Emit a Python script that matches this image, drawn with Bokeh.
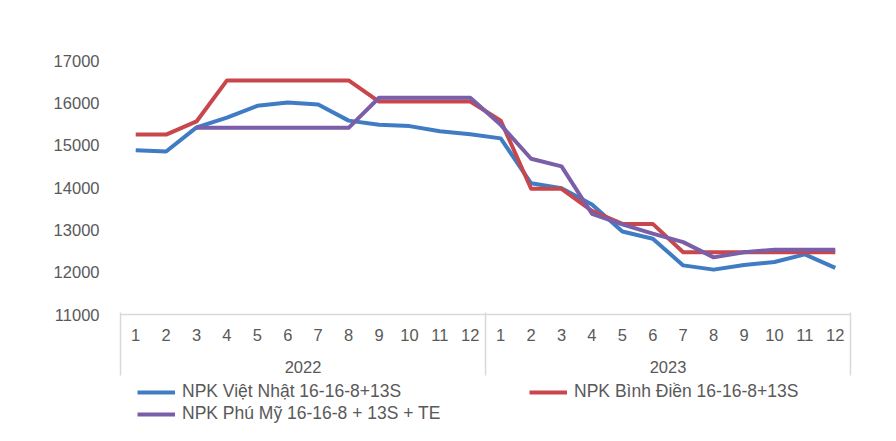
from bokeh.plotting import figure
from bokeh.models import (FixedTicker, LinearAxis, Legend, LegendItem, Range1d,
                          ColumnDataSource)
from bokeh.layouts import column
from bokeh.embed import file_html
from bokeh.resources import INLINE

years = ["2022", "2023"]
months = [str(m) for m in range(1, 13)]
viet_nhat = [14880, 14850, 15420, 15650, 15930, 16010, 15960, 15580, 15480, 15450, 15330, 15260,
             15160, 14100, 13980, 13600, 12960, 12790, 12160, 12060, 12170, 12240, 12420, 12100]
binh_dien = [15250, 15250, 15560, 16530, 16530, 16530, 16530, 16530, 16030, 16030, 16030, 16030,
             15580, 13970, 13970, 13450, 13140, 13140, 12470, 12470, 12470, 12470, 12470, 12470]
phu_my = [None, None, 15410, 15410, 15410, 15410, 15410, 15410, 16120, 16120, 16120, 16120,
          15480, 14680, 14500, 13380, 13130, 12910, 12710, 12350, 12470, 12530, 12530, 12530]
series_names = ["NPK Việt Nhật 16-16-8+13S", "NPK Bình Điền 16-16-8+13S",
                "NPK Phú Mỹ 16-16-8 + 13S + TE"]
colors = ["#3f7cc4", "#c8474c", "#7b5ea8"]

n = len(years) * len(months)
xs = [i + 0.5 for i in range(n)]
month_labels = {xs[i]: months[i % 12] for i in range(n)}
year_pos = [12 * k + 6 for k in range(len(years))]
year_labels = {year_pos[k]: years[k] for k in range(len(years))}
bounds = [12 * k for k in range(len(years) + 1)]
all_series = [viet_nhat, binh_dien, phu_my]

FONT = "Liberation Sans"
GRAY = "#595959"
LINE_GRAY = "#d9d9d9"
AX_FS = "16.5px"

p = figure(width=880, height=378, output_backend="svg", toolbar_location=None,
           x_range=Range1d(0, n), y_range=Range1d(11000, 17000),
           min_border_left=120, min_border_right=30, min_border_top=60,
           min_border_bottom=64, x_axis_type=None, y_axis_type=None)
p.outline_line_color = None

yaxis = LinearAxis(ticker=FixedTicker(ticks=list(range(11000, 17001, 1000))))
yaxis.axis_line_color = None
yaxis.major_tick_line_color = None
yaxis.minor_tick_line_color = None
yaxis.major_label_standoff = 15
yaxis.major_label_text_font = FONT
yaxis.major_label_text_font_size = AX_FS
yaxis.major_label_text_color = GRAY
p.add_layout(yaxis, "left")
p.ygrid.grid_line_color = LINE_GRAY
p.ygrid.ticker = yaxis.ticker
p.ygrid.grid_line_width = 1.5

maxis = LinearAxis(ticker=FixedTicker(ticks=xs))
maxis.major_label_overrides = month_labels
maxis.axis_line_color = LINE_GRAY
maxis.axis_line_width = 1.5
maxis.major_tick_line_color = None
maxis.minor_tick_line_color = None
maxis.major_tick_out = 0
maxis.major_tick_in = 0
maxis.major_label_standoff = 14
maxis.major_label_text_font = FONT
maxis.major_label_text_font_size = AX_FS
maxis.major_label_text_color = GRAY
p.add_layout(maxis, "below")

yrax = LinearAxis(ticker=FixedTicker(ticks=year_pos))
yrax.major_label_overrides = year_labels
yrax.axis_line_color = None
yrax.major_tick_line_color = None
yrax.minor_tick_line_color = None
yrax.major_tick_out = 0
yrax.major_tick_in = 0
yrax.major_label_standoff = 17
yrax.major_label_text_font = FONT
yrax.major_label_text_font_size = AX_FS
yrax.major_label_text_color = GRAY
p.add_layout(yrax, "below")

# group separators: ticks of an extra axis pointing up to the frame
sep = LinearAxis(ticker=FixedTicker(ticks=bounds))
sep.major_label_overrides = {b: "" for b in bounds}
sep.major_label_text_alpha = 0
sep.major_label_text_font_size = "1px"
sep.major_label_standoff = 0
sep.axis_line_color = None
sep.minor_tick_line_color = None
sep.major_tick_line_color = LINE_GRAY
sep.major_tick_line_width = 1.5
sep.major_tick_in = 63
sep.major_tick_out = 0
p.add_layout(sep, "below")

for vals, col in zip(all_series, colors):
    ys = [float("nan") if v is None else v for v in vals]
    src = ColumnDataSource(dict(x=xs, y=ys))
    p.line("x", "y", source=src, line_color=col, line_width=4, line_join="round")

# legend figure (series drawn off-range there; only the legend shows)
q = figure(width=880, height=63, output_backend="svg", toolbar_location=None,
           x_range=Range1d(0, n), y_range=Range1d(0, 1),
           min_border_left=0, min_border_right=0, min_border_top=0,
           min_border_bottom=0, x_axis_type=None, y_axis_type=None)
q.outline_line_color = None
q.xgrid.visible = False
q.ygrid.visible = False
lrs = []
for vals, col in zip(all_series, colors):
    ys = [float("nan") if v is None else v for v in vals]
    lrs.append(q.line(x=xs, y=ys, line_color=col, line_width=4))

def make_legend(idx, spacing, loc):
    return Legend(items=[LegendItem(label=series_names[i], renderers=[lrs[i]]) for i in idx],
                  orientation="horizontal", location=loc,
                  spacing=spacing, padding=0, margin=0,
                  border_line_color=None, background_fill_alpha=0,
                  glyph_width=38, glyph_height=18, label_height=18,
                  label_standoff=7, label_text_font=FONT,
                  label_text_font_size="17.5px", label_text_color=GRAY)

q.add_layout(make_legend([0, 1], 128, (17, 39)), "center")
q.add_layout(make_legend([2], 0, (17, 17)), "center")

open("out.html", "w").write(file_html(column(p, q, spacing=0), INLINE))
